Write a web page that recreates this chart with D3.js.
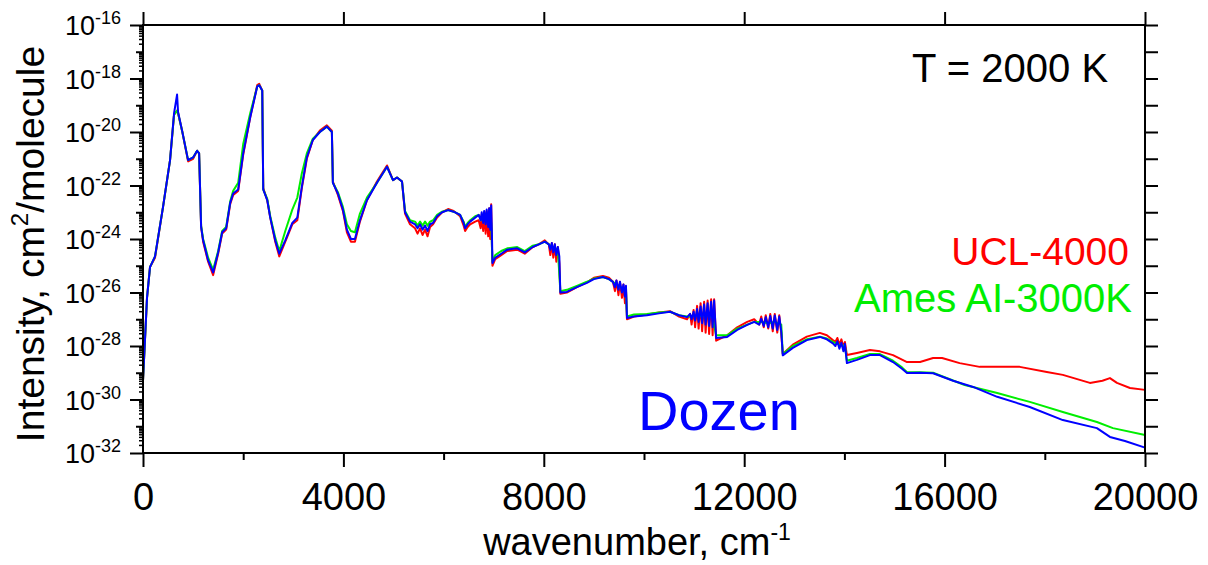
<!DOCTYPE html>
<html>
<head>
<meta charset="utf-8">
<script src="https://cdn.jsdelivr.net/npm/d3@7"></script>
<style>
  body { margin: 0; background: #fff; }
  svg text { font-family: "Liberation Sans", Arial, Helvetica, sans-serif; }
</style>
</head>
<body>
<svg id="chart" width="1208" height="565"></svg>
<script>
// DATA: [wavenumber cm-1, log10 intensity]
var dozenData = [
  [0,-29.3],[80,-26.2],[140,-25.05],[240,-24.65],[400,-22.8],[540,-21.05],[620,-19.3],[680,-18.6],[700,-19.25],
  [780,-19.95],[900,-21.05],[1000,-20.95],[1080,-20.7],[1120,-20.8],[1160,-23.55],[1200,-24.05],[1300,-24.8],
  [1400,-25.25],[1500,-24.5],[1580,-23.75],[1660,-23.6],[1740,-22.65],[1800,-22.3],[1900,-22.15],[2000,-20.8],
  [2140,-19.45],[2280,-18.3],[2320,-18.25],[2380,-18.45],[2400,-22.15],[2480,-22.55],[2540,-23.2],[2640,-24.05],
  [2720,-24.55],[2840,-24.05],[2980,-23.4],[3080,-23.2],[3170,-22.05],[3270,-20.95],[3390,-20.3],[3530,-20.0],
  [3670,-19.8],[3770,-20.0],[3790,-21.9],[3890,-22.3],[3990,-22.9],[4070,-23.65],[4150,-24.0],[4230,-24.0],
  [4330,-23.3],[4470,-22.55],[4670,-21.9],[4870,-21.3],[4990,-21.8],[5070,-21.7],[5170,-21.85],[5230,-23.0],
  [5330,-23.35],[5430,-23.45],[5480,-23.6],[5530,-23.45],[5580,-23.65],[5630,-23.5],[5680,-23.7],[5730,-23.45],
  [5790,-23.4],[5870,-23.15],[5970,-23.0],[6090,-22.92],[6200,-22.98],[6330,-23.1],[6400,-23.4],[6430,-23.6],
  [6480,-23.45],[6530,-23.35],[6630,-23.2],[6700,-23.1],
  [6740,-23.3],[6760,-23.0],[6790,-23.4],[6810,-22.95],[6840,-23.45],[6860,-22.9],[6890,-23.55],[6910,-22.85],
  [6930,-23.65],[6950,-22.75],[6965,-23.85],[6975,-24.9],
  [7030,-24.7],[7150,-24.55],[7270,-24.4],[7470,-24.35],[7620,-24.5],[7780,-24.3],[7900,-24.2],[8020,-24.1],[8100,-24.2],
  [8130,-24.4],[8160,-24.15],[8190,-24.5],[8220,-24.2],[8250,-24.6],[8280,-24.3],[8310,-24.65],[8330,-26.0],
  [8460,-25.98],[8660,-25.8],[8860,-25.64],[9000,-25.5],[9180,-25.42],[9300,-25.5],[9380,-25.6],
  [9420,-25.8],[9450,-25.55],[9490,-25.9],[9520,-25.6],[9560,-26.0],[9590,-25.7],[9620,-26.15],[9640,-25.75],[9660,-26.95],
  [9800,-26.9],[10060,-26.85],[10300,-26.78],[10520,-26.72],[10700,-26.85],[10860,-26.92],
  [10920,-26.8],[10950,-27.0],[10990,-26.72],[11020,-27.05],[11060,-26.62],[11090,-27.1],[11130,-26.52],[11160,-27.15],
  [11200,-26.45],[11230,-27.2],[11270,-26.4],[11300,-27.25],[11340,-26.35],[11370,-27.3],[11400,-26.3],[11440,-27.7],
  [11660,-27.66],[11860,-27.4],[12060,-27.21],[12200,-27.1],
  [12300,-27.2],[12340,-26.98],[12390,-27.25],[12430,-26.92],[12480,-27.3],[12520,-26.88],[12570,-27.35],[12610,-26.86],
  [12660,-27.4],[12700,-26.9],[12740,-27.45],[12770,-28.35],
  [12970,-28.07],[13250,-27.78],[13510,-27.66],[13650,-27.75],[13770,-27.9],
  [13820,-28.0],[13860,-27.82],[13900,-28.1],[13940,-27.88],[13980,-28.2],[14010,-27.92],[14050,-28.64],
  [14250,-28.52],[14510,-28.34],[14710,-28.34],[14970,-28.6],[15150,-28.85],[15250,-29.01],[15510,-29.0],[15770,-29.02],
  [16170,-29.3],[16570,-29.53],[17050,-29.9],[17700,-30.28],[18360,-30.77],[19040,-31.07],[19300,-31.4],[19600,-31.55],[20000,-31.8]
];

var uclData = [
  [0,-29.3],[80,-26.2],[140,-25.05],[240,-24.7],[400,-22.8],[540,-21.05],[620,-19.35],[680,-19.2],[700,-19.3],
  [780,-19.95],[900,-21.1],[1000,-21.0],[1080,-20.7],[1120,-20.8],[1160,-23.55],[1200,-24.1],[1300,-24.85],
  [1400,-25.35],[1500,-24.55],[1580,-23.8],[1660,-23.65],[1740,-22.7],[1800,-22.35],[1900,-22.2],[2000,-20.85],
  [2140,-19.45],[2280,-18.25],[2320,-18.2],[2380,-18.45],[2400,-22.1],[2480,-22.55],[2540,-23.2],[2640,-24.1],
  [2720,-24.65],[2840,-24.1],[2980,-23.45],[3080,-23.3],[3170,-22.1],[3270,-21.0],[3390,-20.3],[3530,-19.95],
  [3670,-19.75],[3770,-19.95],[3790,-21.85],[3890,-22.35],[3990,-22.95],[4070,-23.75],[4150,-24.1],[4230,-24.1],
  [4330,-23.35],[4470,-22.55],[4670,-21.85],[4870,-21.25],[4990,-21.8],[5070,-21.7],[5170,-21.85],[5230,-23.05],
  [5330,-23.45],[5430,-23.6],[5480,-23.8],[5530,-23.6],[5580,-23.85],[5630,-23.65],[5680,-23.9],[5730,-23.55],
  [5790,-23.45],[5870,-23.2],[5970,-23.0],[6090,-22.88],[6200,-22.95],[6330,-23.15],[6400,-23.5],[6430,-23.7],
  [6480,-23.55],[6530,-23.45],[6630,-23.35],[6700,-23.3],
  [6740,-23.6],[6760,-23.1],[6790,-23.7],[6810,-23.0],[6840,-23.8],[6860,-22.95],[6890,-23.9],[6910,-22.85],
  [6930,-24.0],[6950,-22.7],[6965,-24.3],[6975,-25.0],
  [7030,-24.75],[7150,-24.6],[7270,-24.45],[7470,-24.4],[7620,-24.55],[7780,-24.3],[7900,-24.2],[8020,-24.05],[8100,-24.2],
  [8130,-24.6],[8160,-24.15],[8190,-24.7],[8220,-24.2],[8250,-24.85],[8280,-24.3],[8310,-24.9],[8330,-26.05],
  [8460,-26.0],[8660,-25.8],[8860,-25.62],[9000,-25.45],[9180,-25.38],[9300,-25.45],[9380,-25.6],
  [9420,-25.95],[9450,-25.55],[9490,-26.1],[9520,-25.6],[9560,-26.2],[9590,-25.7],[9620,-26.4],[9640,-25.8],[9660,-27.0],
  [9800,-26.9],[10060,-26.82],[10300,-26.75],[10520,-26.7],[10700,-26.9],[10860,-27.0],
  [10920,-26.8],[10950,-27.2],[10990,-26.65],[11020,-27.3],[11060,-26.5],[11090,-27.35],[11130,-26.4],[11160,-27.45],
  [11200,-26.35],[11230,-27.5],[11270,-26.3],[11300,-27.55],[11340,-26.25],[11370,-27.6],[11400,-26.25],[11440,-27.8],
  [11660,-27.6],[11860,-27.3],[12060,-27.1],[12200,-27.0],
  [12300,-27.2],[12340,-26.9],[12390,-27.3],[12430,-26.85],[12480,-27.35],[12520,-26.8],[12570,-27.45],[12610,-26.8],
  [12660,-27.5],[12700,-26.85],[12740,-27.55],[12770,-28.3],
  [12970,-27.95],[13250,-27.65],[13510,-27.51],[13650,-27.6],[13770,-27.78],
  [13820,-27.85],[13860,-27.7],[13900,-27.95],[13940,-27.75],[13980,-28.05],[14010,-27.85],[14050,-28.34],
  [14250,-28.26],[14510,-28.15],[14710,-28.2],[14970,-28.34],[15250,-28.6],[15510,-28.6],[15770,-28.45],
  [15950,-28.45],[16300,-28.64],[16700,-28.78],[17500,-28.78],[18040,-28.97],[18360,-29.08],[18900,-29.38],
  [19150,-29.3],[19300,-29.2],[19440,-29.38],[19700,-29.57],[20000,-29.64]
];

var amesData = [
  [0,-29.3],[80,-26.2],[140,-25.05],[240,-24.65],[400,-22.8],[540,-21.05],[620,-19.35],[680,-19.2],[700,-19.3],
  [780,-19.95],[900,-21.05],[1000,-20.95],[1080,-20.7],[1120,-20.8],[1160,-23.5],[1200,-24.0],[1300,-24.7],
  [1400,-25.15],[1500,-24.45],[1580,-23.7],[1660,-23.55],[1740,-22.6],[1800,-22.2],[1900,-21.9],[2000,-20.45],
  [2140,-19.3],[2280,-18.3],[2320,-18.25],[2380,-18.45],[2400,-22.15],[2480,-22.5],[2540,-23.15],[2640,-23.95],
  [2720,-24.45],[2840,-23.7],[2980,-22.9],[3080,-22.45],[3170,-21.55],[3270,-20.8],[3390,-20.25],[3530,-20.0],
  [3670,-19.8],[3770,-20.0],[3790,-21.9],[3890,-22.25],[3990,-22.8],[4070,-23.45],[4150,-23.7],[4230,-23.75],
  [4330,-23.05],[4470,-22.45],[4670,-21.9],[4870,-21.3],[4990,-21.8],[5070,-21.7],[5170,-21.85],[5230,-22.95],
  [5330,-23.3],[5430,-23.35],[5480,-23.5],[5530,-23.35],[5580,-23.5],[5630,-23.35],[5680,-23.5],[5730,-23.35],
  [5790,-23.3],[5870,-23.1],[5970,-22.98],[6090,-22.92],[6200,-22.98],[6330,-23.1],[6400,-23.35],[6430,-23.55],
  [6480,-23.4],[6530,-23.3],[6630,-23.15],[6700,-23.1],
  [6760,-23.3],[6810,-23.2],[6860,-23.35],[6910,-23.2],[6950,-23.4],[6975,-24.85],
  [7030,-24.6],[7150,-24.45],[7270,-24.35],[7470,-24.3],[7620,-24.45],[7780,-24.25],[7900,-24.2],[8020,-24.1],[8100,-24.2],
  [8160,-24.3],[8220,-24.35],[8280,-24.4],[8330,-25.95],
  [8460,-25.9],[8660,-25.75],[8860,-25.6],[9000,-25.48],[9180,-25.42],[9300,-25.5],[9380,-25.6],
  [9450,-25.7],[9520,-25.8],[9590,-25.85],[9640,-25.9],[9660,-26.9],
  [9800,-26.82],[10060,-26.8],[10300,-26.75],[10520,-26.72],[10700,-26.85],[10860,-26.9],
  [10950,-26.9],[11060,-26.85],[11160,-26.9],[11270,-26.85],[11370,-26.95],[11440,-27.6],
  [11660,-27.6],[11860,-27.35],[12060,-27.2],[12200,-27.1],
  [12340,-27.1],[12480,-27.15],[12610,-27.1],[12740,-27.2],[12770,-28.3],
  [12970,-28.0],[13250,-27.75],[13510,-27.65],[13650,-27.72],[13770,-27.85],
  [13900,-27.95],[14010,-28.0],[14050,-28.55],
  [14250,-28.45],[14510,-28.3],[14710,-28.3],[14970,-28.55],[15150,-28.8],[15250,-28.98],[15510,-28.98],[15770,-29.0],
  [16400,-29.46],[17050,-29.76],[17700,-30.09],[18360,-30.47],[19040,-30.84],[19360,-31.07],[20000,-31.33]
];

var xMajorTicks = [0, 4000, 8000, 12000, 16000, 20000];
var xMinorTicks = [2000, 6000, 10000, 14000, 18000];
var yExponents = d3.range(-32, -15); // -32 .. -16

// LAYOUT (names avoid window.top etc.)
var svg = d3.select("#chart");
var plotL = 143, plotR = 1145, plotT = 25, plotB = 453;

var x = d3.scaleLinear().domain([0, 20000]).range([plotL, plotR]);
var y = d3.scaleLog().domain([1e-32, 1e-16]).range([plotB, plotT]);

// minor log ticks (2..9 x 10^k)
var yMinor = [];
yExponents.slice(0, -1).forEach(function (e) {
    for (var m = 2; m <= 9; m++) yMinor.push(m * Math.pow(10, e));
});

// LINES
var line = d3.line()
    .x(function (d) { return x(d[0]); })
    .y(function (d) { return y(Math.pow(10, d[1])); });

var series = [
    { data: uclData, color: "#ff0000" },
    { data: amesData, color: "#00ee00" },
    { data: dozenData, color: "#0000ff" }
];

svg.append("g").selectAll("path")
    .data(series)
    .enter().append("path")
    .attr("d", function (s) { return line(s.data); })
    .attr("fill", "none")
    .attr("stroke", function (s) { return s.color; })
    .attr("stroke-width", 2)
    .attr("stroke-linejoin", "round");

// AXES
function styleAxis(g) {
    g.select(".domain").remove();
    g.selectAll("line").attr("stroke", "#000").attr("stroke-width", 2);
}

// bottom
svg.append("g").attr("transform", "translate(0," + plotB + ")")
    .call(d3.axisBottom(x).tickValues(xMinorTicks).tickSize(7).tickFormat(""))
    .call(styleAxis);
var xAxisG = svg.append("g").attr("transform", "translate(0," + plotB + ")")
    .call(d3.axisBottom(x).tickValues(xMajorTicks).tickSize(14).tickFormat(d3.format("d")).tickPadding(16))
    .call(styleAxis);
xAxisG.selectAll("text").attr("font-size", 38).attr("fill", "#000")
    .attr("font-family", "Liberation Sans, Arial, sans-serif");

// top
svg.append("g").attr("transform", "translate(0," + plotT + ")")
    .call(d3.axisTop(x).tickValues(xMajorTicks).tickSize(13).tickFormat(""))
    .call(styleAxis);

// left: minor, odd, even decades
svg.append("g").attr("transform", "translate(" + plotL + ",0)")
    .call(d3.axisLeft(y).tickValues(yMinor).tickSize(4).tickFormat(""))
    .call(styleAxis)
    .selectAll("line").attr("stroke-width", 1.5);
svg.append("g").attr("transform", "translate(" + plotL + ",0)")
    .call(d3.axisLeft(y).tickValues(yExponents.filter(function (e) { return e % 2 !== 0; })
        .map(function (e) { return Math.pow(10, e); })).tickSize(7).tickFormat(""))
    .call(styleAxis);
svg.append("g").attr("transform", "translate(" + plotL + ",0)")
    .call(d3.axisLeft(y).tickValues(yExponents.filter(function (e) { return e % 2 === 0; })
        .map(function (e) { return Math.pow(10, e); })).tickSize(13).tickFormat(""))
    .call(styleAxis);

// right
svg.append("g").attr("transform", "translate(" + plotR + ",0)")
    .call(d3.axisRight(y).tickValues(yExponents.map(function (e) { return Math.pow(10, e); })).tickSize(13).tickFormat(""))
    .call(styleAxis);

// frame
svg.append("rect")
    .attr("x", plotL).attr("y", plotT)
    .attr("width", plotR - plotL).attr("height", plotB - plotT)
    .attr("fill", "none").attr("stroke", "#000").attr("stroke-width", 2);

// y tick labels 10^n
yExponents.filter(function (e) { return e % 2 === 0; }).forEach(function (e) {
    var t = svg.append("text")
        .attr("x", 121).attr("y", y(Math.pow(10, e)) + 10)
        .attr("text-anchor", "end").attr("fill", "#000");
    t.append("tspan").attr("font-size", 27).text("10");
    t.append("tspan").attr("font-size", 18).attr("dy", -11).text(e);
});

// axis titles
var xt = svg.append("text")
    .attr("x", 637).attr("y", 555)
    .attr("text-anchor", "middle").attr("font-size", 38).attr("fill", "#000");
xt.append("tspan").text("wavenumber, cm");
xt.append("tspan").attr("font-size", 23).attr("dy", -15).text("-1");

var yt = svg.append("text")
    .attr("transform", "translate(44,244) rotate(-90)")
    .attr("text-anchor", "middle").attr("font-size", 39).attr("fill", "#000");
yt.append("tspan").text("Intensity, cm");
yt.append("tspan").attr("font-size", 24).attr("dy", -16).text("2");
yt.append("tspan").attr("dy", 16).text("/molecule");

// annotations
svg.append("text").attr("x", 912).attr("y", 82)
    .attr("font-size", 40).attr("fill", "#000").text("T = 2000 K");
svg.append("text").attr("x", 1129).attr("y", 265).attr("text-anchor", "end")
    .attr("font-size", 39).attr("fill", "#ff0000").text("UCL-4000");
svg.append("text").attr("x", 1132).attr("y", 312).attr("text-anchor", "end")
    .attr("font-size", 40).attr("fill", "#00ee00").text("Ames AI-3000K");
svg.append("text").attr("x", 638).attr("y", 430)
    .attr("font-size", 56).attr("fill", "#0000ff").text("Dozen");
</script>
</body>
</html>
